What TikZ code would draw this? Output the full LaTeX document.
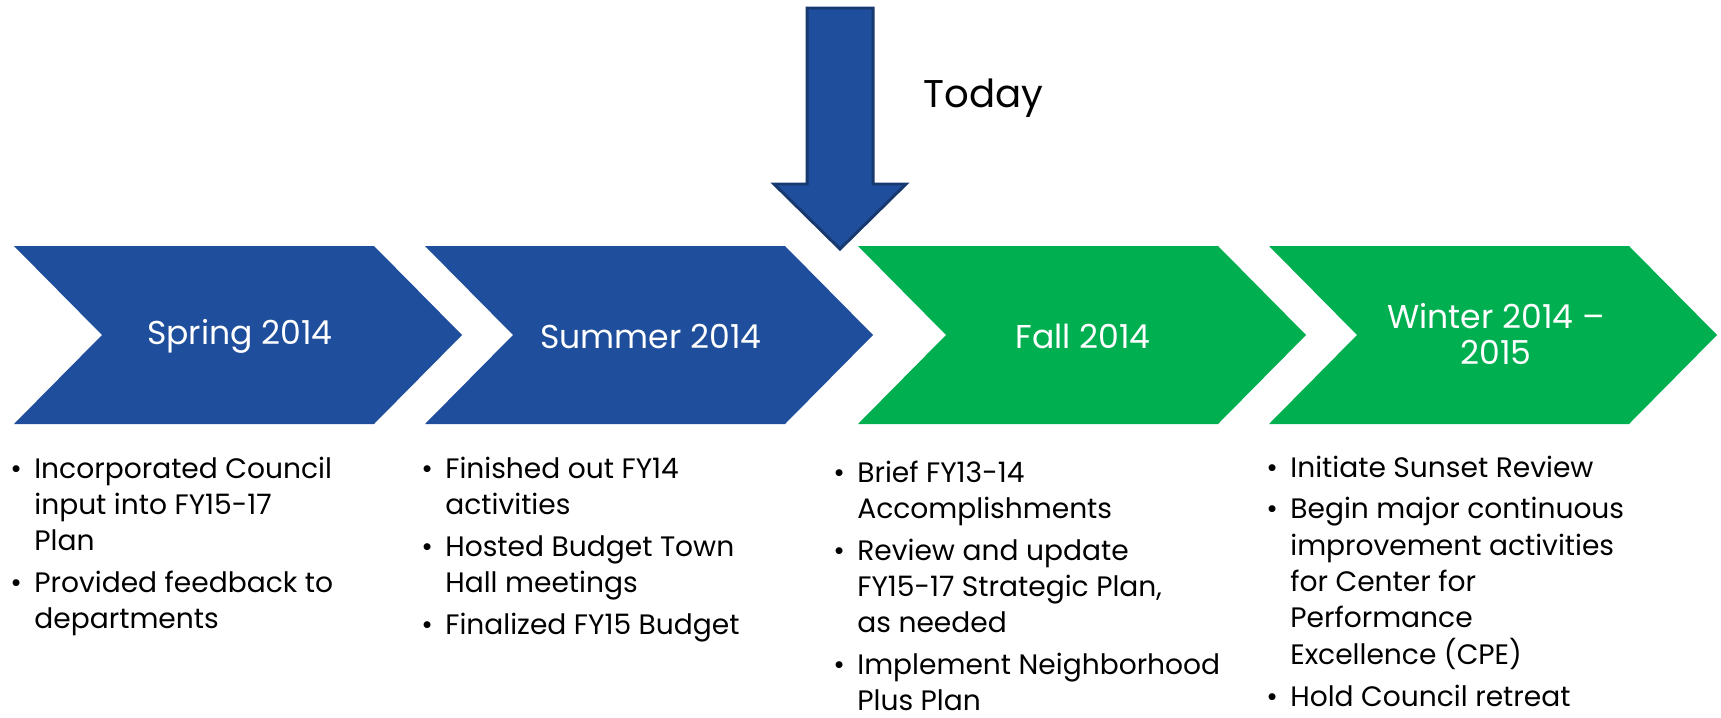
\documentclass[tikz,border=0pt]{standalone}
\usepackage{fontspec}
\setmainfont{Poppins}
\definecolor{stepblue}{HTML}{1F4E9C}
\definecolor{stepgreen}{HTML}{00B050}
\definecolor{arrowline}{HTML}{18396F}
\tikzset{
  season/.style={text=white,font=\fontsize{18.8}{20.5}\selectfont,align=center},
  tasks/.style={anchor=base west,inner sep=0pt,font=\fontsize{16}{20.5}\selectfont}
}
\newcommand{\bul}{\makebox[0.48cm][l]{\textbullet}}
\begin{document}
\begin{tikzpicture}[x=0.02cm,y=-0.02cm]
  \useasboundingbox (0,0) rectangle (1721,717);
  % four chevrons, 448 wide, notch and point 88 deep
  \foreach \x/\col in {14/stepblue,425/stepblue,858/stepgreen,1269/stepgreen}
    \fill[\col] (\x,246) -- ++(360,0) -- ++(88,89) -- ++(-88,89) -- ++(-360,0) -- ++(88,-89) -- cycle;
  \node[season] (spring) at (240,336) {Spring 2014};
  \node[season] (summer) at (651,336) {Summer 2014};
  \node[season] (fall) at (1083,336) {Fall 2014};
  \node[season] (winter) at (1496,334) {Winter 2014 --\\2015};
  % the "today" marker
  \draw[arrowline,fill=stepblue,line width=1.7pt] (807,8) -- (873,8) -- (873,184) -- (906,184)
    -- (840,249) -- (774,184) -- (807,184) -- cycle;
  \node[anchor=base west,inner sep=0pt,font=\fontsize{22}{26}\selectfont] (today) at (923,107) {Today};
  % what was done / what is planned
  \node[tasks] (springlist) at (10,478) {\begin{tabular}[t]{@{}l@{}l@{}}
    \bul & Incorporated Council\\ & input into FY15-17\\ & Plan\\[3.4pt]
    \bul & Provided feedback to\\ & departments
  \end{tabular}};
  \node[tasks] (summerlist) at (421,478) {\begin{tabular}[t]{@{}l@{}l@{}}
    \bul & Finished out FY14\\ & activities\\[3.4pt]
    \bul & Hosted Budget Town\\ & Hall meetings\\[3.4pt]
    \bul & Finalized FY15 Budget
  \end{tabular}};
  \node[tasks] (falllist) at (833,482) {\begin{tabular}[t]{@{}l@{}l@{}}
    \bul & Brief FY13-14\\ & Accomplishments\\[3.4pt]
    \bul & Review and update\\ & FY15-17 Strategic Plan,\\ & as needed\\[3.4pt]
    \bul & Implement Neighborhood\\ & Plus Plan
  \end{tabular}};
  \node[tasks] (winterlist) at (1266,477) {\begin{tabular}[t]{@{}l@{}l@{}}
    \bul & Initiate Sunset Review\\[3.4pt]
    \bul & Begin major continuous\\ & improvement activities\\ & for Center for\\ & Performance\\ & Excellence (CPE)\\[3.4pt]
    \bul & Hold Council retreat
  \end{tabular}};
\end{tikzpicture}
\end{document}
